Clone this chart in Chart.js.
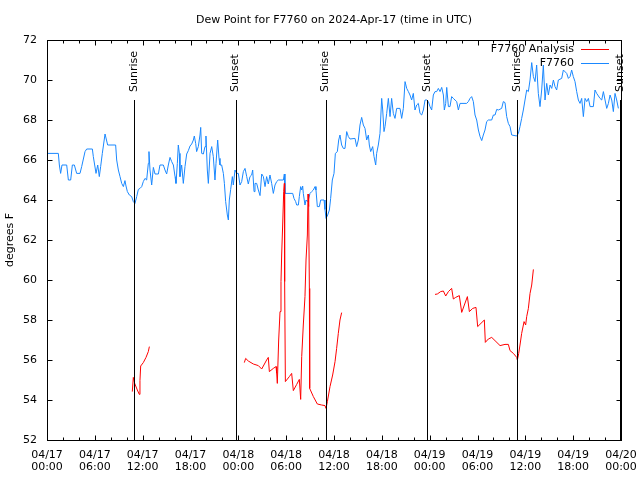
<!DOCTYPE html>
<html>
<head>
<meta charset="utf-8">
<title>Dew Point for F7760</title>
<script src="https://cdn.jsdelivr.net/npm/chart.js@4.4.1/dist/chart.umd.min.js"></script>
<style>
	html, body { margin: 0; padding: 0; background: #fff; }
	canvas { display: block; }
</style>
</head>
<body>
<canvas id="dewChart" width="640" height="480"></canvas>
<script>
var chartTitle = 'Dew Point for F7760 on 2024-Apr-17 (time in UTC)';
var yTitle = 'degrees F';

// x axis is hours since 04/17 00:00 UTC
var xTickDates = ['04/17', '04/17', '04/17', '04/17', '04/18', '04/18', '04/18', '04/18', '04/19', '04/19', '04/19', '04/19', '04/20'];
var xTickTimes = ['00:00', '06:00', '12:00', '18:00', '00:00', '06:00', '12:00', '18:00', '00:00', '06:00', '12:00', '18:00', '00:00'];

var sunHours = [10.97, 23.65, 34.95, 47.67, 58.98, 71.84];
var sunLabels = ['Sunrise', 'Sunset', 'Sunrise', 'Sunset', 'Sunrise', 'Sunset'];

var seriesNames = ['F7760 Analysis', 'F7760'];
var seriesColors = ['#ff0000', '#1a88ff'];

// observed station dew point
var stationHours = [
	0.1, 1.42, 1.55, 1.71, 1.88, 2.47, 2.68, 2.97, 3.18, 3.43, 3.72, 4.14, 4.35, 4.77, 4.98, 5.69, 5.81, 6.15, 6.36, 6.56,
	6.73, 6.94, 7.28, 7.61, 8.61, 8.74, 8.95, 9.16, 9.37, 9.58, 9.78, 9.91, 10.08, 10.33, 10.62, 10.83, 11.04, 11.25, 11.46, 11.67,
	11.88, 12.08, 12.29, 12.5, 12.71, 12.79, 12.92, 13.13, 13.34, 13.55, 13.97, 14.17, 14.59, 14.8, 15.01, 15.22, 15.43, 15.64, 15.85, 16.06,
	16.18, 16.35, 16.47, 16.6, 16.68, 16.89, 17.1, 17.31, 17.52, 17.73, 17.94, 18.15, 18.36, 18.48, 18.65, 18.77, 18.98, 19.19, 19.28, 19.4,
	19.61, 19.82, 19.94, 20.11, 20.24, 20.45, 20.66, 20.86, 21.07, 21.2, 21.41, 21.58, 21.7, 21.91, 22.12, 22.25, 22.41, 22.62, 22.75, 22.87,
	23.04, 23.25, 23.37, 23.58, 23.79,
	24.0, 24.21, 24.42, 24.63, 24.84, 25.05, 25.25, 25.46, 25.67, 25.8, 25.97, 26.09, 26.3, 26.51, 26.72, 26.93, 27.14, 27.35, 27.55, 27.76,
	27.97, 28.18, 28.39, 28.6, 28.81, 29.02, 29.65, 29.77, 29.85, 30.82, 30.98, 31.19, 31.32, 31.53, 31.65, 31.82, 31.95, 32.07, 32.15, 32.36,
	32.49, 32.66, 32.78, 32.99, 33.2, 33.41, 33.62, 33.74, 33.91, 34.16, 34.33, 34.75, 34.87, 35.0, 35.21, 35.42, 35.58, 35.79, 36.0, 36.17,
	36.42, 36.59, 36.75, 36.96, 37.17, 37.38, 37.59, 37.8, 38.01, 38.64, 38.84, 39.05, 39.26, 39.47, 39.68, 39.89, 40.1, 40.31, 40.43, 40.6,
	40.85, 41.02, 41.23, 41.35, 41.56, 41.77, 41.98, 42.11, 42.27, 42.4, 42.61, 42.82, 43.03, 43.23, 43.44, 43.65, 43.86, 44.28, 44.49, 44.7,
	44.91, 45.12, 45.33, 45.53, 45.74, 45.95, 46.16, 46.37, 46.58, 46.79, 47.0, 47.21, 47.42, 47.63,
	47.84, 48.04, 48.25, 48.46, 48.67, 48.88, 49.09, 49.3, 49.51, 49.72, 49.84, 50.01, 50.14, 50.35, 50.55, 50.76, 50.97, 51.18, 51.39, 51.6,
	51.81, 52.64, 52.85, 53.06, 53.27, 53.48, 53.69, 53.9, 54.11, 54.32, 54.53, 54.73, 54.94, 55.15, 55.36, 55.78, 55.99, 56.2, 56.41, 56.62,
	57.03, 57.24, 57.45, 57.66, 57.87, 58.08, 58.29, 58.92, 59.13, 59.33, 59.54, 59.75, 59.96, 60.17, 60.38, 60.59, 60.8, 61.01, 61.22, 61.42,
	61.63, 61.84, 62.05, 62.26, 62.47, 62.68, 62.89, 63.1, 63.31, 63.52, 63.72, 63.93, 64.14, 64.56, 64.77, 65.19, 65.4, 65.61, 65.81, 66.02,
	66.23, 66.44, 66.65, 66.86, 67.07, 67.28, 67.49, 67.7, 67.91, 68.12, 68.53, 68.74, 68.95, 69.37, 69.58, 69.79, 70.0, 70.21, 70.42, 70.63,
	70.84, 71.04, 71.25, 71.46, 71.67
];
var stationValues = [
	66.33, 66.33, 65.75, 65.33, 65.75, 65.75, 65.0, 65.0, 65.75, 65.75, 65.33, 65.33, 65.67, 66.42, 66.55, 66.55, 66.17, 65.33, 65.75, 65.17,
	65.67, 66.33, 67.3, 66.75, 66.75, 66.0, 65.5, 65.17, 64.83, 64.67, 64.97, 64.7, 64.42, 64.25, 64.17, 63.92, 63.83, 64.17, 64.53, 64.58,
	64.67, 64.92, 65.08, 65.0, 65.83, 66.42, 65.5, 64.75, 65.63, 65.3, 65.3, 65.75, 65.75, 65.5, 65.3, 65.75, 66.13, 65.92, 65.75, 65.17,
	64.83, 65.83, 66.75, 66.33, 65.17, 65.75, 64.83, 65.67, 66.3, 66.47, 66.7, 66.8, 67.0, 67.2, 66.83, 66.42, 66.67, 67.25, 67.63, 66.33,
	66.3, 66.67, 67.2, 65.5, 64.83, 66.33, 66.67, 66.17, 65.0, 65.83, 67.0, 66.08, 65.75, 65.75, 65.33, 64.83, 63.92, 63.25, 63.0, 64.0,
	64.53, 65.17, 64.75, 65.5, 65.33,
	65.33, 64.75, 64.92, 65.42, 65.58, 65.17, 64.8, 65.17, 65.25, 65.5, 64.42, 64.83, 64.83, 64.5, 64.22, 65.3, 65.17, 64.67, 65.17, 64.8,
	65.25, 64.83, 64.33, 64.75, 64.92, 65.0, 65.0, 65.3, 64.33, 64.33, 64.08, 63.92, 63.75, 63.75, 64.17, 64.67, 64.5, 64.7, 64.33, 63.75,
	64.0, 63.92, 64.0, 64.33, 64.42, 64.5, 64.67, 64.5, 63.67, 63.67, 64.0, 64.0, 63.53, 63.08, 63.25, 63.5, 64.08, 65.0, 65.33, 66.33,
	66.42, 67.0, 67.25, 66.75, 66.58, 66.58, 67.42, 67.17, 67.05, 67.08, 66.67, 67.0, 67.75, 68.13, 67.75, 67.58, 67.0, 67.25, 66.75, 66.42,
	66.67, 66.17, 65.75, 66.33, 66.75, 67.33, 69.08, 68.5, 67.42, 67.67, 68.33, 69.08, 68.17, 69.08, 68.33, 68.08, 68.58, 68.58, 68.08, 68.58,
	69.92, 69.58, 69.42, 69.25, 69.0, 69.33, 68.5, 68.75, 68.83, 68.33, 68.25, 68.5, 69.0, 69.0,
	68.92, 68.67, 68.5, 69.25, 69.42, 69.42, 69.58, 69.42, 69.63, 69.25, 68.5, 68.83, 69.63, 68.67, 68.67, 69.17, 69.08, 69.0, 68.92, 68.5,
	68.83, 68.83, 68.92, 69.08, 69.17, 68.92, 68.25, 68.0, 67.5, 67.17, 66.97, 67.25, 67.5, 67.92, 68.0, 68.0, 68.25, 68.25, 68.53, 68.5,
	68.58, 68.92, 68.87, 68.17, 67.83, 67.67, 67.25, 67.2, 67.33, 67.67, 68.08, 68.5, 69.0, 69.5, 69.42, 70.0, 70.87, 70.17, 69.92, 70.75,
	69.33, 68.67, 69.5, 70.75, 69.0, 69.83, 69.25, 69.75, 69.58, 70.0, 69.67, 69.5, 70.0, 70.08, 70.5, 70.33, 70.08, 70.17, 70.5, 70.17,
	69.92, 69.42, 69.0, 68.83, 69.08, 68.17, 69.08, 68.92, 69.08, 68.67, 68.67, 69.5, 69.33, 69.08, 69.0, 69.42, 69.0, 68.58, 68.83, 69.25,
	69.0, 68.42, 69.33, 69.0, 68.58
];

// analysis values, null marks a gap between runs
var analysisHours = [
	10.7, 10.83, 11.0, 11.33, 11.58, 11.66, 11.75, 12.08, 12.42, 12.71, 12.84, 13.5,
	24.75, 24.92, 25.25, 25.88, 26.51, 26.93, 27.55, 27.76, 27.89, 28.39, 28.73, 28.81, 28.89, 29.06, 29.23, 29.35, 29.44, 29.56,
	29.69, 29.77, 29.81, 29.9, 30.4, 30.69, 30.9, 31.32, 31.65, 31.82, 31.95, 32.15, 32.36, 32.49, 32.66, 32.74, 32.82, 32.91,
	32.95, 33.41, 33.91, 34.45, 34.87, 35.0, 35.17, 35.5, 35.83, 36.13, 36.33, 36.54, 36.75, 36.96, 37.5,
	48.67, 48.96, 49.38, 49.72, 50.01, 50.35, 50.76, 50.97, 51.26, 51.72, 52.02, 52.35, 52.73, 52.98, 53.4, 53.81, 54.02, 54.86,
	54.98, 55.36, 55.78, 56.32, 56.83, 57.45, 57.87, 58.08, 58.5, 58.92, 59.0, 59.17, 59.33, 59.54, 59.84, 60.04, 60.17, 60.38,
	60.59, 60.8, 61.01
];
var analysisValues = [
	54.42, 55.13, 54.83, 54.5, 54.28, 54.97, 55.7, 55.87, 56.13, 56.42, 56.67, null,
	55.87, 56.08, 55.95, 55.8, 55.72, 55.55, 56.0, 56.13, 55.42, 55.58, 55.67, 55.33, 54.83, 57.0, 58.42, 59.92, 61.3, 62.75,
	64.42, 64.83, 59.92, 54.92, 55.17, 55.33, 54.47, 54.78, 55.03, 54.03, 56.17, 57.75, 59.17, 61.0, 62.25, 64.3, 63.67, 59.58,
	54.58, 54.17, 53.8, 53.75, 53.72, 53.58, 53.92, 54.67, 55.25, 55.92, 56.58, 57.33, 58.0, 58.37, null,
	59.28, 59.3, 59.42, 59.45, 59.2, 59.42, 59.58, 59.05, 59.13, 59.22, 58.38, 58.75, 59.17, 58.42, 58.58, 58.63, 57.67, 58.0,
	56.88, 57.05, 57.13, 56.92, 56.72, 56.78, 56.78, 56.47, 56.33, 56.13, 56.0, 56.33, 56.75, 57.33, 57.92, 57.75, 58.17, 58.58,
	59.33, 59.75, 60.53
];

function toPoints(hours, values) {
	var pts = [];
	for (var i = 0; i < hours.length; i++) {
		pts.push({x: hours[i], y: values[i]});
	}
	return pts;
}

// gnuplot style frame: border, inward tics on all sides, sun markers and key
var gnuplotFrame = {
	id: 'gnuplotFrame',
	afterDraw: function(chart) {
		var ctx = chart.ctx;
		var a = chart.chartArea;
		var xs = chart.scales.x;
		var ys = chart.scales.y;
		var L = Math.round(a.left) + 0.5, R = Math.round(a.right) + 0.5;
		var T = Math.round(a.top) + 0.5, B = Math.round(a.bottom) + 0.5;
		var h, v, px, py, len, i;

		ctx.save();
		ctx.strokeStyle = '#000';
		ctx.lineWidth = 1;
		ctx.beginPath();

		for (h = 0; h <= 72; h += 2) {
			px = Math.round(xs.getPixelForValue(h)) + 0.5;
			len = (h % 6 === 0) ? 5 : 3;
			ctx.moveTo(px, B); ctx.lineTo(px, B - len);
			ctx.moveTo(px, T); ctx.lineTo(px, T + len);
		}
		for (v = 52; v <= 72; v += 2) {
			py = Math.round(ys.getPixelForValue(v)) + 0.5;
			ctx.moveTo(L, py); ctx.lineTo(L + 5, py);
			ctx.moveTo(R, py); ctx.lineTo(R - 5, py);
		}

		// sunrise / sunset markers
		var lineTop = a.bottom - 0.85 * (a.bottom - a.top);
		for (i = 0; i < sunHours.length; i++) {
			px = Math.round(xs.getPixelForValue(sunHours[i])) + 0.5;
			ctx.moveTo(px, B); ctx.lineTo(px, lineTop);
		}
		ctx.stroke();
		ctx.strokeRect(L, T, R - L, B - T);

		ctx.fillStyle = '#000';
		ctx.font = '11px "DejaVu Sans"';
		ctx.textBaseline = 'middle';
		var labelY = a.bottom - 0.87 * (a.bottom - a.top);
		for (i = 0; i < sunHours.length; i++) {
			px = xs.getPixelForValue(sunHours[i]);
			ctx.save();
			ctx.translate(px, labelY);
			ctx.rotate(-Math.PI / 2);
			ctx.textAlign = 'left';
			ctx.fillText(sunLabels[i], 0, 0);
			ctx.restore();
		}

		// key, top right inside the plot
		ctx.textAlign = 'right';
		for (i = 0; i < seriesNames.length; i++) {
			var ky = Math.round(a.top) + 9 + i * 14;
			ctx.fillStyle = '#000';
			ctx.fillText(seriesNames[i], a.right - 47, ky);
			ctx.strokeStyle = seriesColors[i];
			ctx.beginPath();
			ctx.moveTo(a.right - 40, ky + 0.5);
			ctx.lineTo(a.right - 12, ky + 0.5);
			ctx.stroke();
		}
		ctx.restore();
	}
};

Chart.defaults.font.family = '"DejaVu Sans"';
Chart.defaults.font.size = 11;
Chart.defaults.color = '#000';

var ctx = document.getElementById('dewChart').getContext('2d');
var dewChart = new Chart(ctx, {
	type: 'line',
	data: {
		datasets: [{
			label: seriesNames[0],
			data: toPoints(analysisHours, analysisValues),
			borderColor: seriesColors[0],
			borderWidth: 1,
			pointRadius: 0,
			tension: 0,
			spanGaps: false
		}, {
			label: seriesNames[1],
			data: toPoints(stationHours, stationValues),
			borderColor: seriesColors[1],
			borderWidth: 1,
			pointRadius: 0,
			tension: 0
		}]
	},
	options: {
		responsive: false,
		animation: false,
		devicePixelRatio: 1,
		layout: { padding: { left: 0, right: 19, top: 0, bottom: 0 } },
		plugins: {
			legend: { display: false },
			tooltip: { enabled: false },
			title: {
				display: true,
				text: chartTitle,
				fullSize: false,
				font: { size: 11, weight: 'normal', lineHeight: '13px' },
				padding: { top: 14, bottom: 13 }
			}
		},
		scales: {
			x: {
				type: 'linear',
				min: 0,
				max: 72,
				grid: { display: false, drawTicks: false },
				border: { display: false },
				ticks: {
					stepSize: 6,
					autoSkip: false,
					maxRotation: 0,
					padding: 9,
					font: { size: 11, lineHeight: '12px' },
					callback: function(value) {
						var i = Math.round(value / 6);
						return [xTickDates[i], xTickTimes[i]];
					}
				},
				afterFit: function(scale) {
					scale.height = 40;
					scale.paddingLeft = 0;
					scale.paddingRight = 0;
				}
			},
			y: {
				min: 52,
				max: 72,
				grid: { display: false, drawTicks: false },
				border: { display: false },
				ticks: { stepSize: 2, padding: 10 },
				title: {
					display: true,
					text: yTitle,
					font: { size: 11 },
					padding: { top: 4, bottom: 0 }
				},
				afterFit: function(scale) {
					scale.width = 47;
					scale.paddingTop = 0;
					scale.paddingBottom = 0;
				}
			}
		}
	},
	plugins: [gnuplotFrame]
});
</script>
</body>
</html>
